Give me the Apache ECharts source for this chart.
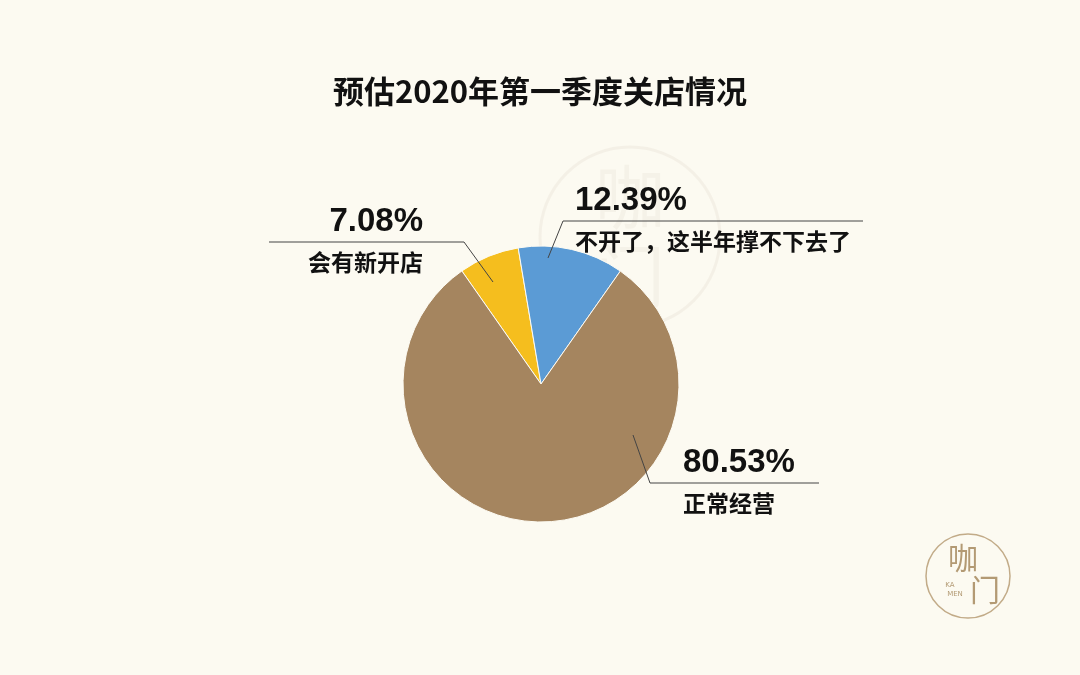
<!DOCTYPE html>
<html>
<head>
<meta charset="utf-8">
<script src="https://cdn.jsdelivr.net/npm/echarts@6/dist/echarts.min.js"></script>
<style>
html,body{margin:0;padding:0;background:#fcfaf1;}
#c{width:1080px;height:675px;}
</style>
</head>
<body>
<div id="c"></div>
<script>
// Data
var titleText = '预估2020年第一季度关店情况';
var categories = ['会有新开店', '不开了，这半年撑不下去了', '正常经营'];
var values = [7.08, 12.39, 80.53];
var colors = ['#f5be1e', '#5b9bd5', '#a5855f'];

// Label placement (styling only)
var labelPlaces = [
  {x: 423, y: 242, align: 'right', line: [[493, 282], [464, 242], [269, 242]]},
  {x: 575, y: 221, align: 'left',  line: [[548, 258], [563, 221], [863, 221]]},
  {x: 683, y: 483, align: 'left',  line: [[633, 435], [650, 483], [819, 483]]}
];

var chart = echarts.init(document.getElementById('c'));
var latin = '"Liberation Sans", "Noto Sans CJK SC", sans-serif';
var cjkFont = '"Noto Sans CJK SC", sans-serif';

var pieBase = {
  type: 'pie',
  center: [541, 384],
  radius: [0, 138],
  startAngle: 125,
  clockwise: true
};

chart.setOption({
  backgroundColor: '#fcfaf1',
  animation: false,
  title: {
    text: titleText,
    left: 'center',
    top: 71,
    textStyle: {fontSize: 31, fontWeight: 'bold', color: '#111', fontFamily: cjkFont}
  },
  graphic: [
    {type: 'circle', shape: {cx: 630, cy: 237, r: 90}, style: {fill: 'none', stroke: 'rgba(190,180,160,0.13)', lineWidth: 3}, z: -10},
    {type: 'text', x: 630, y: 237, style: {text: '咖\n门', fill: 'rgba(190,180,160,0.1)', font: '70px "Noto Sans CJK SC"', align: 'center', verticalAlign: 'middle', lineHeight: 80}, z: -10},
    {type: 'circle', shape: {cx: 968, cy: 576, r: 42}, style: {fill: 'none', stroke: '#c2ab88', lineWidth: 1.5}},
    {type: 'text', x: 963, y: 558, style: {text: '咖', fill: '#b39a74', font: '30px "Noto Sans CJK SC"', align: 'center', verticalAlign: 'middle'}},
    {type: 'text', x: 985, y: 590, style: {text: '门', fill: '#b39a74', font: '30px "Noto Sans CJK SC"', align: 'center', verticalAlign: 'middle'}},
    {type: 'text', x: 950, y: 585, style: {text: 'KA', fill: '#b39a74', font: '7px "DejaVu Sans"', align: 'center', verticalAlign: 'middle'}},
    {type: 'text', x: 955, y: 594, style: {text: 'MEN', fill: '#b39a74', font: '7px "DejaVu Sans"', align: 'center', verticalAlign: 'middle'}}
  ],
  series: [
    Object.assign({}, pieBase, {
      z: 2,
      itemStyle: {borderColor: '#fdfbf3', borderWidth: 1},
      label: {show: false},
      labelLine: {show: false},
      data: categories.map(function (c, i) {
        return {name: c, value: values[i], itemStyle: {color: colors[i]}};
      })
    }),
    Object.assign({}, pieBase, {
      z: 5,
      silent: true,
      itemStyle: {color: 'rgba(0,0,0,0)', borderWidth: 0},
      data: categories.map(function (c, i) {
        return {name: c, value: values[i]};
      }),
      label: {
        show: true,
        position: 'outside',
        formatter: function (p) { return '{p|' + values[p.dataIndex].toFixed(2) + '%}\n{n|' + p.name + '}'; },
        rich: {
          p: {fontSize: 33, fontWeight: 'bold', color: '#111', fontFamily: latin, lineHeight: 40},
          n: {fontSize: 23, fontWeight: 'bold', color: '#111', fontFamily: cjkFont, lineHeight: 40}
        }
      },
      labelLine: {show: true, lineStyle: {color: '#444', width: 1, opacity: 1}},
      labelLayout: function (params) {
        var lp = labelPlaces[params.dataIndex];
        return {
          x: lp.x, y: lp.y, align: lp.align, verticalAlign: 'middle',
          labelLinePoints: lp.line
        };
      }
    })
  ]
});
</script>
</body>
</html>
